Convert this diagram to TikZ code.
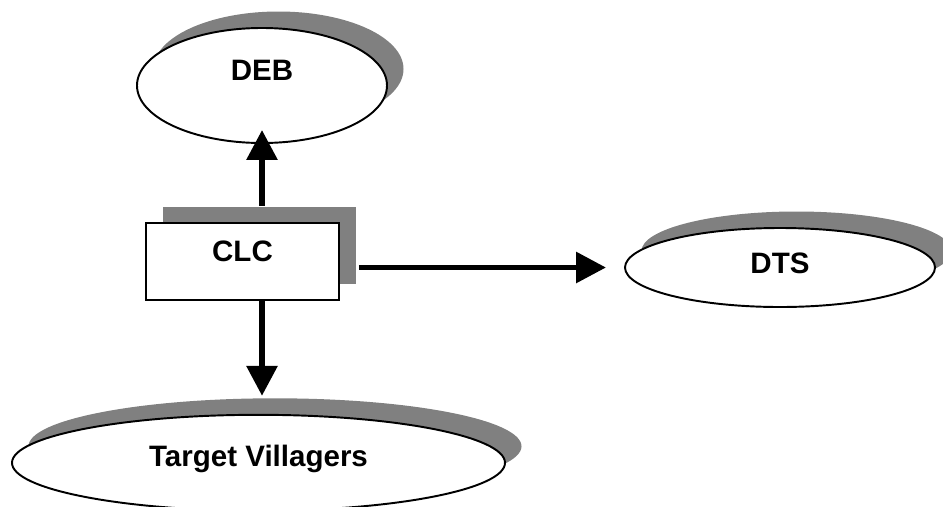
\documentclass[tikz,border=0pt]{standalone}
\usepackage{fontspec}
\setmainfont{Liberation Sans}
\usetikzlibrary{arrows.meta,shapes.geometric,shadows}

\begin{document}
\begin{tikzpicture}[>={Triangle[length=0.6cm,width=0.6cm]},
  grey shadow/.style={drop shadow={shadow xshift=0.33cm,shadow yshift=0.33cm,fill=black!50,opacity=1}},
  oval/.style={ellipse,draw,line width=1.1pt,fill=white,grey shadow,font=\fontsize{16.8}{20}\selectfont\bfseries,text height=0.42cm},
  panel/.style={rectangle,draw,line width=1.1pt,fill=white,grey shadow,font=\fontsize{16.8}{20}\selectfont\bfseries,text height=0.42cm},
  link/.style={->,line width=3.4pt}]
\useasboundingbox (0,0) rectangle (18.86,10.12);

% boxes
\node[oval,minimum width=5cm,minimum height=2.3cm,text depth=0.62cm] (deb) at (5.24,8.41) {DEB};
\node[panel,minimum width=3.86cm,minimum height=1.54cm,text depth=0.42cm] (clc) at (4.85,4.89) {CLC};
\node[oval,minimum width=6.2cm,minimum height=1.58cm,text depth=0.2cm] (dts) at (15.6,4.77) {DTS};
\node[oval,minimum width=9.86cm,minimum height=1.92cm,text depth=0.26cm] (vil) at (5.17,0.864) {Target Villagers};

% arrows
\draw[link,shorten <=0.33cm,shorten >=-0.28cm] (clc.north -| deb) -- (deb.south);
\draw[link,shorten <=0.38cm,shorten >=0.36cm] (clc.east |- dts) -- (dts.west);
\draw[link,shorten >=0.36cm] (clc.south -| deb) -- (vil.north -| deb);
\end{tikzpicture}
\end{document}
